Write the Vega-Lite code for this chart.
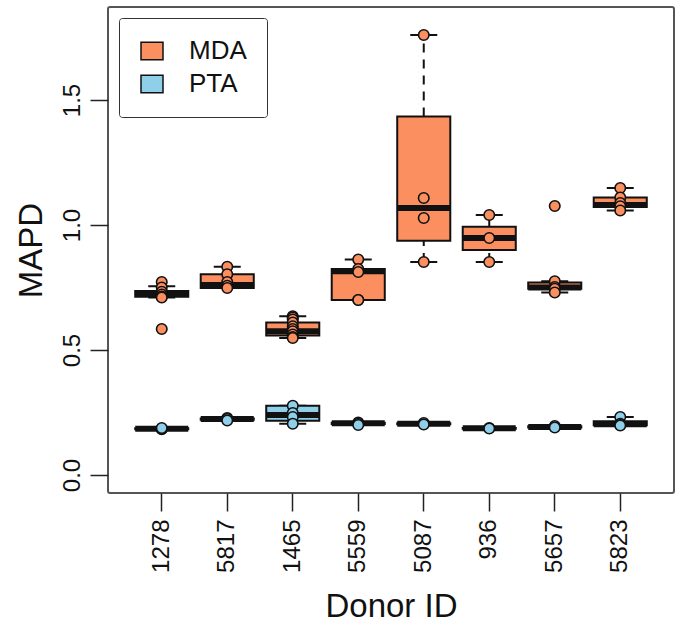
{
  "$schema": "https://vega.github.io/schema/vega-lite/v6.json",
  "width": 566,
  "height": 486,
  "autosize": {"type": "none"},
  "padding": {"left": 108, "top": 7, "right": 8, "bottom": 137},
  "background": "white",
  "config": {
    "font": "Liberation Sans",
    "view": {"stroke": "#555", "strokeWidth": 2, "cornerRadius": 2},
    "axis": {
      "grid": false, "domain": false, "tickColor": "#222", "tickWidth": 1.5, "tickSize": 18,
      "labelFontSize": 24, "labelColor": "#111", "titleFontSize": 33, "titleFontWeight": "normal", "titleColor": "#111"
    }
  },
  "datasets": {
    "boxes": [
      {"donor": "1278", "method": "MDA", "lo": 0.71, "q1": 0.713, "med": 0.725, "q3": 0.736, "hi": 0.755},
      {"donor": "5817", "method": "MDA", "lo": 0.748, "q1": 0.748, "med": 0.76, "q3": 0.803, "hi": 0.833},
      {"donor": "1465", "method": "MDA", "lo": 0.548, "q1": 0.558, "med": 0.575, "q3": 0.61, "hi": 0.635},
      {"donor": "5559", "method": "MDA", "lo": 0.70, "q1": 0.70, "med": 0.815, "q3": 0.824, "hi": 0.862},
      {"donor": "5087", "method": "MDA", "lo": 0.852, "q1": 0.937, "med": 1.068, "q3": 1.434, "hi": 1.76},
      {"donor": "936", "method": "MDA", "lo": 0.852, "q1": 0.90, "med": 0.948, "q3": 0.993, "hi": 1.04},
      {"donor": "5657", "method": "MDA", "lo": 0.73, "q1": 0.745, "med": 0.75, "q3": 0.77, "hi": 0.775},
      {"donor": "5823", "method": "MDA", "lo": 1.058, "q1": 1.072, "med": 1.08, "q3": 1.11, "hi": 1.148},
      {"donor": "1278", "method": "PTA", "lo": 0.181, "q1": 0.183, "med": 0.185, "q3": 0.187, "hi": 0.189},
      {"donor": "5817", "method": "PTA", "lo": 0.218, "q1": 0.221, "med": 0.224, "q3": 0.226, "hi": 0.228},
      {"donor": "1465", "method": "PTA", "lo": 0.205, "q1": 0.217, "med": 0.24, "q3": 0.277, "hi": 0.277},
      {"donor": "5559", "method": "PTA", "lo": 0.2, "q1": 0.204, "med": 0.207, "q3": 0.209, "hi": 0.212},
      {"donor": "5087", "method": "PTA", "lo": 0.201, "q1": 0.203, "med": 0.205, "q3": 0.207, "hi": 0.209},
      {"donor": "936", "method": "PTA", "lo": 0.184, "q1": 0.185, "med": 0.187, "q3": 0.188, "hi": 0.19},
      {"donor": "5657", "method": "PTA", "lo": 0.189, "q1": 0.19, "med": 0.192, "q3": 0.195, "hi": 0.197},
      {"donor": "5823", "method": "PTA", "lo": 0.198, "q1": 0.199, "med": 0.203, "q3": 0.215, "hi": 0.232}
    ],
    "points": [
      {"donor": "1278", "method": "MDA", "mapd": 0.772},
      {"donor": "1278", "method": "MDA", "mapd": 0.75},
      {"donor": "1278", "method": "MDA", "mapd": 0.733},
      {"donor": "1278", "method": "MDA", "mapd": 0.722},
      {"donor": "1278", "method": "MDA", "mapd": 0.714},
      {"donor": "1278", "method": "MDA", "mapd": 0.71},
      {"donor": "1278", "method": "MDA", "mapd": 0.584},
      {"donor": "5817", "method": "MDA", "mapd": 0.833},
      {"donor": "5817", "method": "MDA", "mapd": 0.803},
      {"donor": "5817", "method": "MDA", "mapd": 0.772},
      {"donor": "5817", "method": "MDA", "mapd": 0.757},
      {"donor": "5817", "method": "MDA", "mapd": 0.748},
      {"donor": "1465", "method": "MDA", "mapd": 0.635},
      {"donor": "1465", "method": "MDA", "mapd": 0.63},
      {"donor": "1465", "method": "MDA", "mapd": 0.622},
      {"donor": "1465", "method": "MDA", "mapd": 0.61},
      {"donor": "1465", "method": "MDA", "mapd": 0.595},
      {"donor": "1465", "method": "MDA", "mapd": 0.584},
      {"donor": "1465", "method": "MDA", "mapd": 0.575},
      {"donor": "1465", "method": "MDA", "mapd": 0.562},
      {"donor": "1465", "method": "MDA", "mapd": 0.552},
      {"donor": "1465", "method": "MDA", "mapd": 0.548},
      {"donor": "5559", "method": "MDA", "mapd": 0.862},
      {"donor": "5559", "method": "MDA", "mapd": 0.824},
      {"donor": "5559", "method": "MDA", "mapd": 0.812},
      {"donor": "5559", "method": "MDA", "mapd": 0.70},
      {"donor": "5559", "method": "MDA", "mapd": 0.70},
      {"donor": "5087", "method": "MDA", "mapd": 1.76},
      {"donor": "5087", "method": "MDA", "mapd": 1.108},
      {"donor": "5087", "method": "MDA", "mapd": 1.028},
      {"donor": "5087", "method": "MDA", "mapd": 0.852},
      {"donor": "936", "method": "MDA", "mapd": 1.04},
      {"donor": "936", "method": "MDA", "mapd": 0.948},
      {"donor": "936", "method": "MDA", "mapd": 0.852},
      {"donor": "5657", "method": "MDA", "mapd": 1.076},
      {"donor": "5657", "method": "MDA", "mapd": 0.775},
      {"donor": "5657", "method": "MDA", "mapd": 0.752},
      {"donor": "5657", "method": "MDA", "mapd": 0.745},
      {"donor": "5657", "method": "MDA", "mapd": 0.73},
      {"donor": "5823", "method": "MDA", "mapd": 1.148},
      {"donor": "5823", "method": "MDA", "mapd": 1.11},
      {"donor": "5823", "method": "MDA", "mapd": 1.088},
      {"donor": "5823", "method": "MDA", "mapd": 1.075},
      {"donor": "5823", "method": "MDA", "mapd": 1.058},
      {"donor": "1278", "method": "PTA", "mapd": 0.183},
      {"donor": "1278", "method": "PTA", "mapd": 0.185},
      {"donor": "1278", "method": "PTA", "mapd": 0.188},
      {"donor": "5817", "method": "PTA", "mapd": 0.228},
      {"donor": "5817", "method": "PTA", "mapd": 0.224},
      {"donor": "5817", "method": "PTA", "mapd": 0.218},
      {"donor": "1465", "method": "PTA", "mapd": 0.277},
      {"donor": "1465", "method": "PTA", "mapd": 0.248},
      {"donor": "1465", "method": "PTA", "mapd": 0.232},
      {"donor": "1465", "method": "PTA", "mapd": 0.205},
      {"donor": "5559", "method": "PTA", "mapd": 0.21},
      {"donor": "5559", "method": "PTA", "mapd": 0.205},
      {"donor": "5559", "method": "PTA", "mapd": 0.2},
      {"donor": "5087", "method": "PTA", "mapd": 0.208},
      {"donor": "5087", "method": "PTA", "mapd": 0.202},
      {"donor": "936", "method": "PTA", "mapd": 0.188},
      {"donor": "936", "method": "PTA", "mapd": 0.186},
      {"donor": "5657", "method": "PTA", "mapd": 0.196},
      {"donor": "5657", "method": "PTA", "mapd": 0.19},
      {"donor": "5823", "method": "PTA", "mapd": 0.232},
      {"donor": "5823", "method": "PTA", "mapd": 0.205},
      {"donor": "5823", "method": "PTA", "mapd": 0.2},
      {"donor": "5823", "method": "PTA", "mapd": 0.198}
    ]
  },
  "encoding": {
    "x": {
      "field": "donor", "type": "nominal",
      "sort": ["1278", "5817", "1465", "5559", "5087", "936", "5657", "5823"],
      "scale": {"type": "band", "domain": ["1278", "5817", "1465", "5559", "5087", "936", "5657", "5823"], "paddingInner": 0.19, "paddingOuter": 0.4155},
      "axis": {"title": "Donor ID", "labelAngle": 270, "labelAlign": "right", "labelBaseline": "middle", "labelPadding": 8, "titlePadding": 18}
    }
  },
  "layer": [
    {
      "data": {"name": "boxes"},
      "mark": {"type": "rule", "stroke": "#111", "strokeWidth": 2, "strokeDash": [9, 7]},
      "encoding": {
        "y": {"field": "q3", "type": "quantitative", "scale": {"domain": [-0.072, 1.872], "nice": false, "zero": false},
          "axis": {"title": "MAPD", "values": [0, 0.5, 1, 1.5], "format": ".1f", "labelAngle": 270, "labelAlign": "center", "labelBaseline": "bottom", "labelPadding": 6, "titlePadding": 12}},
        "y2": {"field": "hi"}
      }
    },
    {
      "data": {"name": "boxes"},
      "mark": {"type": "rule", "stroke": "#111", "strokeWidth": 2, "strokeDash": [9, 7]},
      "encoding": {
        "y": {"field": "lo", "type": "quantitative"},
        "y2": {"field": "q1"}
      }
    },
    {
      "data": {"name": "boxes"},
      "mark": {"type": "tick", "color": "#111", "size": 27, "thickness": 2, "opacity": 1},
      "encoding": {"y": {"field": "hi", "type": "quantitative"}}
    },
    {
      "data": {"name": "boxes"},
      "mark": {"type": "tick", "color": "#111", "size": 27, "thickness": 2, "opacity": 1},
      "encoding": {"y": {"field": "lo", "type": "quantitative"}}
    },
    {
      "data": {"name": "boxes"},
      "mark": {"type": "bar", "stroke": "#111", "strokeWidth": 2, "opacity": 1},
      "encoding": {
        "y": {"field": "q1", "type": "quantitative"},
        "y2": {"field": "q3"},
        "fill": {"field": "method", "type": "nominal",
          "scale": {"domain": ["MDA", "PTA"], "range": ["#FB8F5F", "#8FCFEA"]},
          "legend": {"title": null, "orient": "top-left", "offset": 11, "padding": 20, "strokeColor": "#333", "cornerRadius": 3, "fillColor": "white",
            "labelFontSize": 26, "labelColor": "#111", "labelOffset": 24, "rowPadding": 7,
            "symbolType": "M-1,-0.8H1V0.8H-1Z", "symbolSize": 484, "symbolStrokeColor": "#222", "symbolStrokeWidth": 1.5, "symbolOpacity": 1}
        }
      }
    },
    {
      "data": {"name": "boxes"},
      "mark": {"type": "tick", "color": "#111", "size": 53, "thickness": 6, "opacity": 1},
      "encoding": {"y": {"field": "med", "type": "quantitative"}}
    },
    {
      "data": {"name": "points"},
      "mark": {"type": "circle", "stroke": "#111", "strokeWidth": 1.6, "size": 110, "opacity": 1},
      "encoding": {
        "y": {"field": "mapd", "type": "quantitative"},
        "fill": {"field": "method", "type": "nominal"}
      }
    }
  ]
}
